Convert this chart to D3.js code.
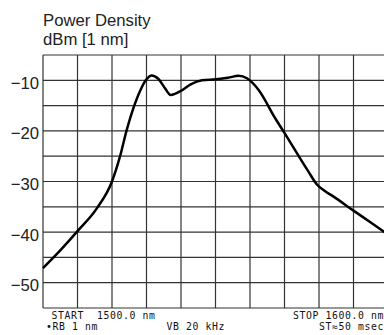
<!DOCTYPE html>
<html>
<head>
<meta charset="utf-8">
<script src="https://cdn.jsdelivr.net/npm/d3@7"></script>
<style>
  body { margin: 0; background: #fff; }
  svg { display: block; }
</style>
</head>
<body>
<svg id="chart"></svg>
<script>
// spectrum
const wavelength = [1500, 1505, 1510, 1515.6, 1520, 1522.3, 1524.2, 1526.2, 1528.2, 1530.0, 1531.5, 1533.4, 1535.3, 1537.0, 1539.7, 1542.8, 1546.1, 1550.1, 1553.6, 1556.7, 1559.1, 1562.5, 1567.3, 1569.8, 1573.6, 1577.0, 1579.4, 1581.5, 1583.8, 1590.1, 1595, 1600];
const power = [-47.1, -43.6, -39.8, -35.3, -30.0, -25.1, -20.0, -15.5, -12.0, -9.8, -9.05, -9.7, -11.5, -12.9, -12.2, -10.8, -10.0, -9.8, -9.5, -9.1, -9.6, -11.9, -17.5, -20.2, -24.4, -28.1, -30.6, -31.8, -32.8, -35.8, -38.1, -40.5];

// grid divisions and labels
const gridNm = [1500, 1510, 1520, 1530, 1540, 1550, 1560, 1570, 1580, 1590, 1600];
const gridDb = [-5, -10, -15, -20, -25, -30, -35, -40, -45, -50, -55];
const labelDb = [-10, -20, -30, -40, -50];

const width = 384, height = 335;
const plotLeft = 43, plotRight = 388, plotTop = 55, plotBottom = 308;

const svg = d3.select('#chart')
    .attr('width', width)
    .attr('height', height);

const x = d3.scaleLinear().domain([1500, 1600]).range([plotLeft, plotRight]);
const y = d3.scaleLinear().domain([-55, -5]).range([plotBottom, plotTop]);

// grid
svg.append('g')
    .selectAll('line')
    .data(gridNm)
    .join('line')
    .attr('x1', d => x(d)).attr('x2', d => x(d))
    .attr('y1', plotTop).attr('y2', plotBottom)
    .style('stroke', '#333')
    .style('stroke-width', 1.2);

svg.append('g')
    .selectAll('line')
    .data(gridDb)
    .join('line')
    .attr('x1', plotLeft).attr('x2', plotRight)
    .attr('y1', d => y(d)).attr('y2', d => y(d))
    .style('stroke', '#333')
    .style('stroke-width', 1.2);

// y labels
const yAxis = svg.append('g')
    .attr('transform', `translate(${plotLeft - 4}, 0)`)
    .call(d3.axisLeft(y).tickValues(labelDb).tickSize(0).tickPadding(0)
        .tickFormat(d => '\u2212' + Math.abs(d)));
yAxis.select('.domain').remove();
yAxis.selectAll('text')
    .attr('dy', '0.48em')
    .style('font-family', 'Liberation Sans, Arial, sans-serif')
    .style('font-size', '16.7px')
    .style('fill', '#222');

// trace
const line = d3.line()
    .x((d, i) => x(wavelength[i]))
    .y(d => y(d))
    .curve(d3.curveMonotoneX);

svg.append('path')
    .datum(power)
    .attr('d', line)
    .style('fill', 'none')
    .style('stroke', '#000')
    .style('stroke-width', 2.5)
    .style('stroke-linejoin', 'round');

// titles
svg.append('text')
    .attr('x', 43).attr('y', 25.7)
    .style('font-family', 'Liberation Sans, Arial, sans-serif')
    .style('font-size', '16.7px')
    .style('fill', '#222')
    .text('Power Density');

svg.append('text')
    .attr('x', 43).attr('y', 45)
    .style('font-family', 'Liberation Sans, Arial, sans-serif')
    .style('font-size', '16.7px')
    .style('fill', '#222')
    .text('dBm [1 nm]');

// instrument footer
const mono = (tx, ty, str, anchor) => svg.append('text')
    .attr('x', tx).attr('y', ty)
    .attr('text-anchor', anchor || 'start')
    .style('font-family', 'DejaVu Sans Mono, monospace')
    .style('font-size', '9.8px')
    .style('letter-spacing', '0.6px')
    .style('fill', '#111')
    .style('white-space', 'pre')
    .text(str);

mono(51.5, 318.5, 'START  1500.0 nm');
mono(46, 330, '\u2022RB 1 nm');
mono(166.5, 330, 'VB 20 kHz');
mono(384, 318.5, 'STOP 1600.0 nm', 'end');
mono(384, 330, 'ST\u224850 msec', 'end');
</script>
</body>
</html>
